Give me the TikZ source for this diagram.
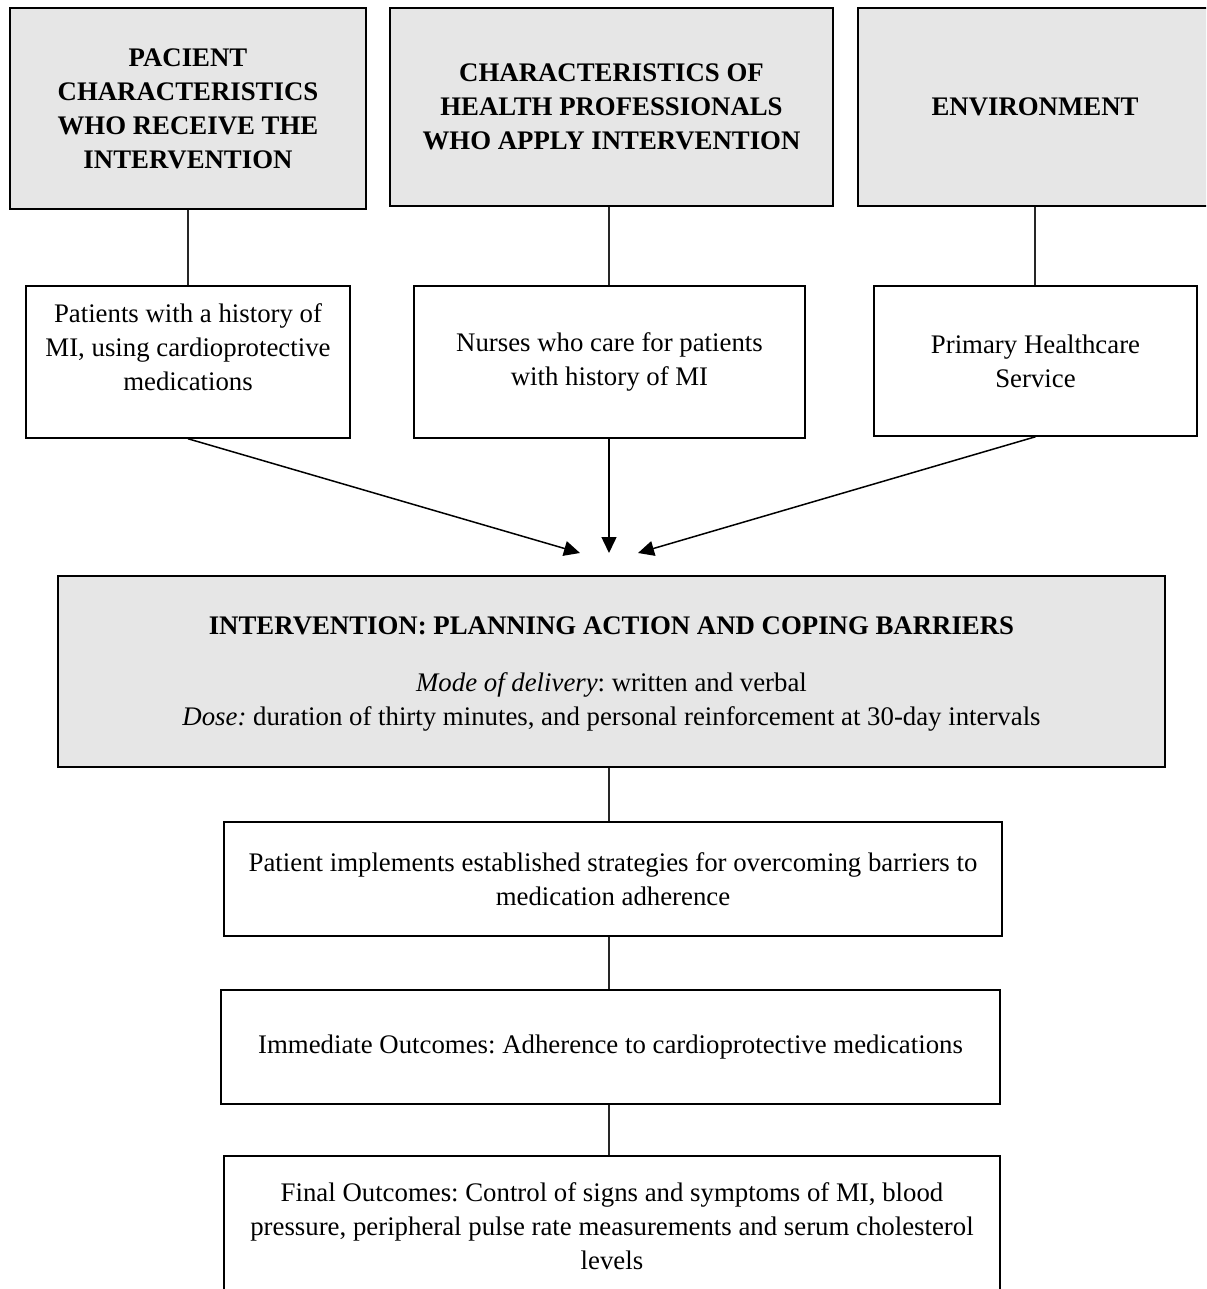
\documentclass[tikz,border=0pt]{standalone}
\usepackage{fontspec}
\setmainfont{Liberation Serif}
\usepackage{tikz}
\usetikzlibrary{arrows.meta, positioning}
\definecolor{headgray}{RGB}{230,230,230}
\frenchspacing

\begin{document}
\begin{tikzpicture}[
  x=0.5pt, y=-0.5pt,
  box/.style={rectangle, draw, align=center, line width=0.75pt, inner sep=0pt,
              font=\fontsize{13.4}{17}\selectfont},
  headbox/.style={box, fill=headgray, font=\fontsize{13.4}{17}\selectfont\bfseries},
  link/.style={draw=black!85, line width=0.6pt},
  arrow/.style={-{Triangle[length=8pt, width=7.5pt]}, line width=0.75pt}]

  \useasboundingbox (0,0) rectangle (1206,1289);
  \clip (0,0) rectangle (1206,1289);

  % characteristics
  \node[headbox, minimum width=178pt, minimum height=100.5pt] (pac) at (188,108.5)
    {PACIENT\\CHARACTERISTICS\\WHO RECEIVE THE\\INTERVENTION};
  \node[headbox, minimum width=221.5pt, minimum height=99pt] (prof) at (611.5,107)
    {CHARACTERISTICS OF\\HEALTH PROFESSIONALS\\WHO APPLY INTERVENTION};
  \node[headbox, minimum width=177pt, minimum height=99pt] (env) at (1035,107)
    {ENVIRONMENT};

  \node[box, minimum width=162pt, minimum height=76pt, text depth=15pt] (patients) at (188,362)
    {Patients with a history of\\MI, using cardioprotective\\medications};
  \node[box, minimum width=195.5pt, minimum height=76pt] (nurses) at (609.5,362)
    {Nurses who care for patients\\with history of MI};
  \node[box, minimum width=161.5pt, minimum height=75pt] (service) at (1035.5,361)
    {Primary Healthcare\\Service};

  % intervention and outcomes
  \node[headbox, font=\fontsize{13.4}{17}\selectfont, minimum width=553.5pt, minimum height=95.5pt,
        text depth=-3pt] (interv) at (611.5,671.5)
    {\textbf{INTERVENTION: PLANNING ACTION AND COPING BARRIERS}\\[11.5pt]
     \textit{Mode of delivery}: written and verbal\\
     \textit{Dose:} duration of thirty minutes, and personal reinforcement at 30-day intervals};
  \node[box, minimum width=389pt, minimum height=57pt] (strat) at (613,879)
    {Patient implements established strategies for overcoming barriers to\\medication adherence};
  \node[box, minimum width=389.5pt, minimum height=57pt] (immed) at (610.5,1047)
    {Immediate Outcomes: Adherence to cardioprotective medications};
  \node[box, minimum width=388pt, minimum height=70pt] (final) at (612,1226)
    {Final Outcomes: Control of signs and symptoms of MI, blood\\pressure, peripheral pulse rate measurements and serum cholesterol\\levels};

  \coordinate (inL) at (580,553);
  \coordinate (inC) at (609,553);
  \coordinate (inR) at (638,553);

  \draw[link] (pac.south) -- (pac.south |- patients.north);
  \draw[link] (609,0 |- prof.south) -- (609,0 |- nurses.north);
  \draw[link] (env.south) -- (env.south |- service.north);

  \draw[arrow] (patients.south) -- (inL);
  \draw[arrow] (nurses.south -| inC) -- (inC);
  \draw[arrow] (service.south) -- (inR);

  \draw[link] (609,0 |- interv.south) -- (609,0 |- strat.north);
  \draw[link] (609,0 |- strat.south) -- (609,0 |- immed.north);
  \draw[link] (609,0 |- immed.south) -- (609,0 |- final.north);
\end{tikzpicture}
\end{document}
